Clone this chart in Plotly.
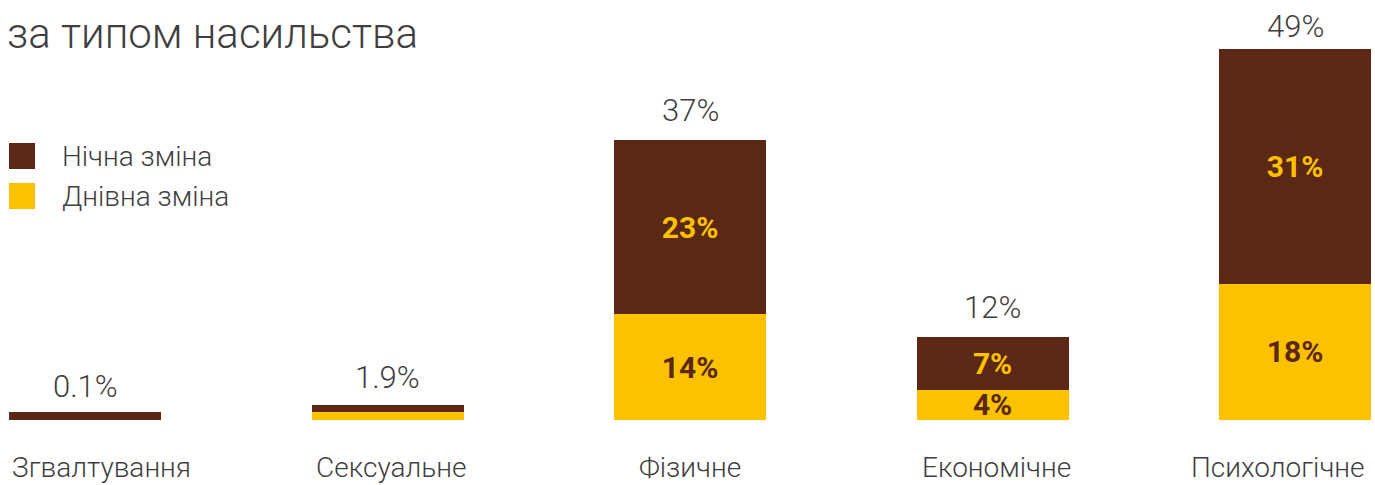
import plotly.graph_objects as go

categories = ["Згвалтування", "Сексуальне", "Фізичне", "Економічне", "Психологічне"]
day_values = [0.0, 1.0, 14, 4, 18]
night_values = [1.0, 1.0, 23, 7, 31]
day_labels = ["", "", "14%", "4%", "18%"]
night_labels = ["", "", "23%", "7%", "31%"]
total_labels = ["0.1%", "1.9%", "37%", "12%", "49%"]
series_names = ["Нічна зміна", "Днівна зміна"]

BROWN = "#5B2816"
YELLOW = "#FCC200"
GREY = "#3f3f3f"
FONT = "Roboto"
BAR_W = 0.5025
label_gaps = [5, 7, 9, 9, 2]  # style: pixel offset of each total label above its bar

xs = list(range(len(categories)))
fig = go.Figure()
fig.add_trace(go.Bar(
    x=xs, y=day_values, name=series_names[1], marker=dict(color=YELLOW, line=dict(width=0)),
    width=BAR_W, text=day_labels, textposition="inside", insidetextanchor="middle",
    textfont=dict(family=FONT, size=30, color=BROWN, weight=700), hoverinfo="skip",
))
fig.add_trace(go.Bar(
    x=xs, y=night_values, name=series_names[0], marker=dict(color=BROWN, line=dict(width=0)),
    width=BAR_W, text=night_labels, textposition="inside", insidetextanchor="middle",
    textfont=dict(family=FONT, size=30, color=YELLOW, weight=700), hoverinfo="skip",
))

totals = [d + n for d, n in zip(day_values, night_values)]
for x, t, lab, g in zip(xs, totals, total_labels, label_gaps):
    fig.add_annotation(x=x, y=t, text=lab, showarrow=False, yanchor="bottom", yshift=g,
                       font=dict(family=FONT, size=31, color=GREY, weight=300))
n = len(categories)
for i, (x, c) in enumerate(zip(xs, categories)):
    if i == 0:
        ax, anchor, xs_ = x - BAR_W / 2, "left", 1
    elif i == n - 1:
        ax, anchor, xs_ = x + BAR_W / 2, "right", -4
    else:
        ax, anchor, xs_ = x, "center", 4 if i != 2 else 0
    fig.add_annotation(x=ax, y=0, text=c, showarrow=False, xanchor=anchor, yanchor="middle",
                       xshift=xs_, yshift=-47,
                       font=dict(family=FONT, size=28, color=GREY, weight=300))

# title
fig.add_annotation(xref="paper", yref="paper", x=0.0, y=1.0, xanchor="left", yanchor="middle",
                   xshift=5, yshift=-33, text="за типом насильства", showarrow=False,
                   font=dict(family=FONT, size=42, color=GREY, weight=300))

# legend
leg_colors = [BROWN, YELLOW]
for i, (nm, col) in enumerate(zip(series_names, leg_colors)):
    y0 = 485 - 143 - i * 40
    fig.add_shape(type="rect", xref="paper", yref="paper",
                  x0=9 / 1375, x1=35 / 1375, y0=(y0 - 26 - 65) / 420, y1=(y0 - 65) / 420,
                  fillcolor=col, line=dict(width=0))
    fig.add_annotation(xref="paper", yref="paper", x=60 / 1375, y=(y0 - 13 - 65) / 420,
                       xanchor="left", yanchor="middle", text=nm, showarrow=False,
                       font=dict(family=FONT, size=28, color=GREY, weight=300))

fig.update_layout(
    barmode="stack", width=1375, height=485, showlegend=False,
    margin=dict(l=0, r=0, t=0, b=65),
    paper_bgcolor="white", plot_bgcolor="white",
    uniformtext=dict(minsize=30, mode="show"),
    xaxis=dict(range=[-0.281, 4.264], visible=False, fixedrange=True),
    yaxis=dict(range=[0, 55.5], visible=False, fixedrange=True),
)
fig.write_html("out.html", config={"displayModeBar": False},
               post_script="document.body.style.margin='0';document.body.style.overflow='hidden';")
